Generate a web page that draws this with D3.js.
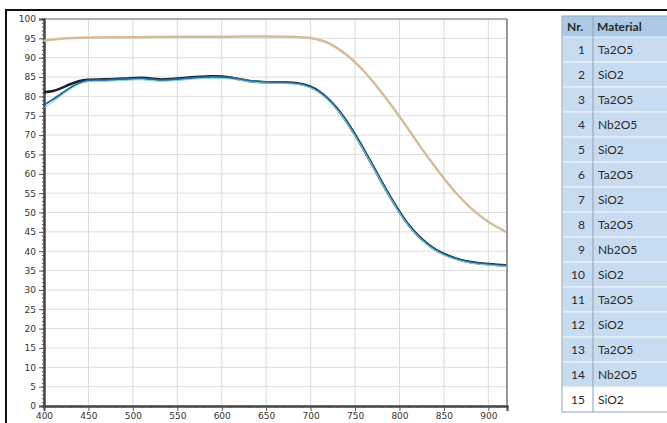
<!DOCTYPE html>
<html>
<head>
<meta charset="utf-8">
<script src="https://cdn.jsdelivr.net/npm/d3@7"></script>
<style>
	body { margin: 0; background: #fff; }
	svg { display: block; font-family: Lato, "Open Sans", sans-serif; }
</style>
</head>
<body>
<svg id="chart" width="667" height="423"></svg>
<script>
// wavelengths (nm) and transmission (%)
var designWl   = [400, 420, 450, 500, 550, 600, 650, 680, 700, 720, 740, 760, 780, 800, 820, 840, 860, 880, 900, 920];
var designVal  = [94.4, 94.9, 95.2, 95.3, 95.4, 95.4, 95.5, 95.4, 95.1, 93.8, 90.8, 86.5, 81.0, 74.8, 68.2, 61.8, 56.0, 51.2, 47.6, 45.0];

var measWl     = [400, 410, 420, 430, 440, 450, 470, 490, 510, 530, 550, 570, 590, 610, 630, 650, 670, 685, 700, 710, 720, 730, 740, 750, 760, 770, 780, 790, 800, 810, 820, 830, 840, 850, 860, 870, 880, 890, 900, 910, 920];
var measA      = [81.1, 81.4, 82.2, 83.2, 84.0, 84.3, 84.4, 84.6, 84.8, 84.4, 84.6, 85.0, 85.2, 84.9, 84.0, 83.6, 83.6, 83.4, 82.5, 81.2, 79.3, 76.8, 73.7, 70.1, 66.2, 62.1, 57.9, 53.9, 50.2, 46.9, 44.3, 42.2, 40.5, 39.3, 38.4, 37.7, 37.2, 36.9, 36.7, 36.5, 36.4];
var measB      = [77.8, 79.2, 80.8, 82.3, 83.5, 84.1, 84.2, 84.5, 84.6, 84.2, 84.4, 84.8, 85.0, 84.8, 84.1, 83.7, 83.5, 83.3, 82.4, 81.1, 79.2, 76.7, 73.6, 70.0, 66.1, 62.0, 57.8, 53.8, 50.1, 46.8, 44.2, 42.1, 40.4, 39.2, 38.3, 37.6, 37.1, 36.8, 36.6, 36.4, 36.3];
var measC      = [77.0, 78.6, 80.3, 81.9, 83.2, 83.8, 83.9, 84.1, 84.3, 83.9, 84.1, 84.5, 84.7, 84.5, 83.8, 83.4, 83.3, 83.1, 82.2, 80.9, 79.0, 76.5, 73.4, 69.8, 65.9, 61.8, 57.6, 53.6, 49.9, 46.6, 44.0, 41.9, 40.2, 39.0, 38.1, 37.4, 36.9, 36.6, 36.4, 36.2, 36.1];

var xTicks = [400, 450, 500, 550, 600, 650, 700, 750, 800, 850, 900];
var yTicks = [0, 5, 10, 15, 20, 25, 30, 35, 40, 45, 50, 55, 60, 65, 70, 75, 80, 85, 90, 95, 100];

var layerNr  = ['1', '2', '3', '4', '5', '6', '7', '8', '9', '10', '11', '12', '13', '14', '15'];
var layerMat = ['Ta2O5', 'SiO2', 'Ta2O5', 'Nb2O5', 'SiO2', 'Ta2O5', 'SiO2', 'Ta2O5', 'Nb2O5', 'SiO2', 'Ta2O5', 'SiO2', 'Ta2O5', 'Nb2O5', 'SiO2'];

var svg = d3.select('#chart');

// outer frame (top + left black rule)
svg.append('line').attr('x1', 5).attr('y1', 10).attr('x2', 667).attr('y2', 10)
	.attr('stroke', '#111').attr('stroke-width', 2);
svg.append('line').attr('x1', 6).attr('y1', 10).attr('x2', 6).attr('y2', 423)
	.attr('stroke', '#111').attr('stroke-width', 2);

var plot = { left: 44, top: 19, right: 507, bottom: 406 };

var x = d3.scaleLinear().domain([400, 921]).range([plot.left, plot.right]);
var y = d3.scaleLinear().domain([0, 100]).range([plot.bottom, plot.top]);

var g = svg.append('g');

// grid
g.selectAll('.hg').data(yTicks).enter().append('line')
	.attr('x1', plot.left).attr('x2', plot.right)
	.attr('y1', function(d){ return y(d); }).attr('y2', function(d){ return y(d); })
	.attr('stroke', '#dedede').attr('stroke-width', 1);
g.selectAll('.vg').data(xTicks).enter().append('line')
	.attr('y1', plot.top).attr('y2', plot.bottom)
	.attr('x1', function(d){ return x(d); }).attr('x2', function(d){ return x(d); })
	.attr('stroke', '#d8d8d8').attr('stroke-width', 1);

// plot border top/right
g.append('line').attr('x1', plot.left).attr('x2', plot.right).attr('y1', plot.top).attr('y2', plot.top)
	.attr('stroke', '#9a9a9a').attr('stroke-width', 1.5);
g.append('line').attr('x1', plot.right).attr('x2', plot.right).attr('y1', plot.top).attr('y2', plot.bottom)
	.attr('stroke', '#777').attr('stroke-width', 1.5);

// axes
var yAxis = d3.axisLeft(y).tickValues(yTicks).tickSize(5).tickPadding(3);
var xAxis = d3.axisBottom(x).tickValues(xTicks).tickSize(5).tickPadding(2);
var yMinor = d3.axisLeft(y).tickValues(d3.range(0, 101, 1)).tickSize(2).tickFormat('');
var xMinor = d3.axisBottom(x).tickValues(d3.range(400, 921, 10)).tickSize(2).tickFormat('');

function styleAxis(sel){
	sel.selectAll('path').attr('stroke', '#444').attr('stroke-width', 2);
	sel.selectAll('line').attr('stroke', '#555');
	sel.selectAll('text').attr('fill', '#333').attr('font-size', 9)
		.attr('font-family', '"DejaVu Sans", Verdana, sans-serif');
}
g.append('g').attr('transform', 'translate(' + plot.left + ',0)').call(yMinor).call(styleAxis);
g.append('g').attr('transform', 'translate(0,' + plot.bottom + ')').call(xMinor).call(styleAxis);
g.append('g').attr('transform', 'translate(' + plot.left + ',0)').call(yAxis).call(styleAxis);
g.append('g').attr('transform', 'translate(0,' + plot.bottom + ')').call(xAxis).call(styleAxis);

// curves
function series(wl, vals){ return wl.map(function(w, i){ return [w, vals[i]]; }); }
var line = d3.line()
	.x(function(d){ return x(d[0]); })
	.y(function(d){ return y(d[1]); })
	.curve(d3.curveCatmullRom);

g.append('path').datum(series(designWl, designVal)).attr('d', line)
	.attr('fill', 'none').attr('stroke', '#d4bd9a').attr('stroke-width', 2.5);
g.append('path').datum(series(measWl, measA)).attr('d', line)
	.attr('fill', 'none').attr('stroke', '#16222f').attr('stroke-width', 2.5);
g.append('path').datum(series(measWl, measB)).attr('d', line)
	.attr('fill', 'none').attr('stroke', '#2c6893').attr('stroke-width', 2);
g.append('path').datum(series(measWl, measC)).attr('d', line)
	.attr('fill', 'none').attr('stroke', '#7fd2de').attr('stroke-width', 1);

// layer table
var tbl = { left: 562, mid: 593, right: 672, top: 16, headH: 21, rowH: 25 };
var t = svg.append('g').attr('font-size', 12).attr('fill', '#2a2a2a');

t.append('rect').attr('x', tbl.left).attr('y', tbl.top)
	.attr('width', tbl.right - tbl.left).attr('height', tbl.headH)
	.attr('fill', '#acc9e6');
t.selectAll('.row').data(layerNr).enter().append('rect')
	.attr('x', tbl.left)
	.attr('y', function(d, i){ return tbl.top + tbl.headH + i * tbl.rowH; })
	.attr('width', tbl.right - tbl.left).attr('height', tbl.rowH)
	.attr('fill', function(d, i){ return i == layerNr.length - 1 ? '#ffffff' : '#c8dcf1'; })
	.attr('stroke', '#eef4fa').attr('stroke-width', 1);

var tblBottom = tbl.top + tbl.headH + layerNr.length * tbl.rowH;
t.append('rect').attr('x', tbl.left).attr('y', tbl.top)
	.attr('width', tbl.right - tbl.left).attr('height', tblBottom - tbl.top)
	.attr('fill', 'none').attr('stroke', '#9aa8b6').attr('stroke-width', 1);
t.append('line').attr('x1', tbl.mid).attr('x2', tbl.mid).attr('y1', tbl.top).attr('y2', tblBottom)
	.attr('stroke', '#8f9fb0').attr('stroke-width', 1);

t.append('text').attr('x', tbl.left + 5).attr('y', tbl.top + tbl.headH / 2 + 4)
	.attr('font-weight', 'bold').text('Nr.');
t.append('text').attr('x', tbl.mid + 4).attr('y', tbl.top + tbl.headH / 2 + 4)
	.attr('font-weight', 'bold').text('Material');

t.selectAll('.nr').data(layerNr).enter().append('text')
	.attr('x', tbl.mid - 8)
	.attr('y', function(d, i){ return tbl.top + tbl.headH + i * tbl.rowH + tbl.rowH / 2 + 4; })
	.attr('text-anchor', 'end').text(function(d){ return d; });
t.selectAll('.mat').data(layerMat).enter().append('text')
	.attr('x', tbl.mid + 5)
	.attr('y', function(d, i){ return tbl.top + tbl.headH + i * tbl.rowH + tbl.rowH / 2 + 4; })
	.text(function(d){ return d; });
</script>
</body>
</html>
